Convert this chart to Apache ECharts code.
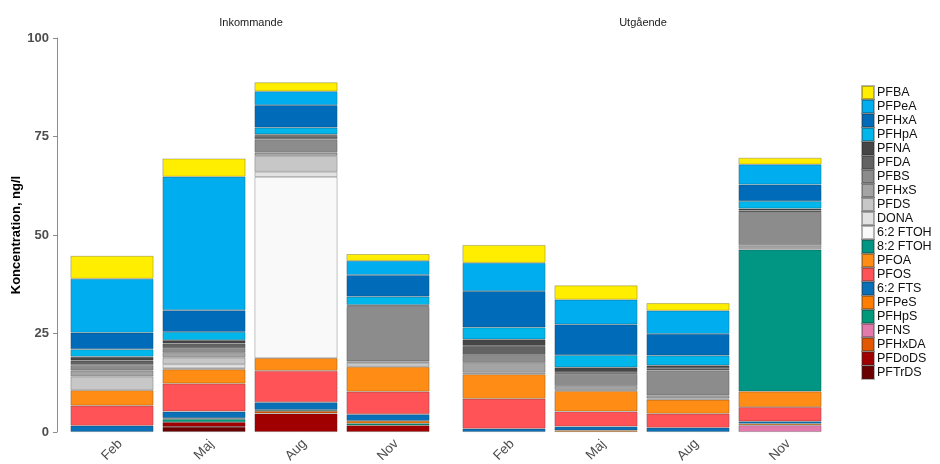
<!DOCTYPE html>
<html>
<head>
<meta charset="utf-8">
<script src="https://cdn.jsdelivr.net/npm/echarts@6/dist/echarts.min.js"></script>
<style>
  html, body { margin: 0; padding: 0; background: #fff; }
  #chart { width: 940px; height: 464px; }
</style>
</head>
<body>
<div id="chart"></div>
<script>
const months = ['Feb', 'Maj', 'Aug', 'Nov'];
const facets = ['Inkommande', 'Utgående'];

// legend order, top of the stack first
const substances = ['PFBA', 'PFPeA', 'PFHxA', 'PFHpA', 'PFNA', 'PFDA', 'PFBS', 'PFHxS', 'PFDS', 'DONA',
  '6:2 FTOH', '8:2 FTOH', 'PFOA', 'PFOS', '6:2 FTS', 'PFPeS', 'PFHpS', 'PFNS', 'PFHxDA', 'PFDoDS', 'PFTrDS'];
const colors = ['#FFEE00', '#00AEEF', '#006CB9', '#00B6EA', '#464646', '#636363', '#8C8C8C', '#A4A4A4', '#C7C7C7', '#E2E2E2',
  '#F9F9F9', '#009683', '#FF8C14', '#FF5358', '#0A70B8', '#FF7E00', '#00997A', '#E27BAC', '#E25700', '#A00000', '#6B0000'];

// ng/l per substance, same order as substances
const inFeb = [5.8, 13.7, 4.2, 1.9, 1.0, 1.1, 1.4, 1.5, 3.5, 0, 0, 0, 3.9, 5.1, 1.6, 0, 0, 0, 0, 0, 0];
const inMaj = [4.6, 33.9, 5.5, 2.1, 0.8, 1.2, 1.2, 1.2, 1.7, 1.0, 0.3, 0, 3.6, 7.1, 1.7, 0.2, 0.8, 0, 0, 1.2, 1.3];
const inAug = [2.3, 3.5, 5.7, 1.7, 0.4, 0.85, 3.4, 0.85, 4.0, 1.3, 46.0, 0, 3.2, 8.0, 1.95, 0, 0.3, 0, 0.6, 4.7, 0];
const inNov = [1.7, 3.6, 5.5, 2.1, 0.25, 0.25, 13.8, 0.4, 1.0, 0, 0, 0, 6.3, 5.75, 1.7, 0.6, 0.5, 0, 0, 1.7, 0];
const utFeb = [4.5, 7.2, 9.2, 3.05, 1.65, 2.3, 2.0, 2.5, 0.4, 0, 0, 0, 6.2, 7.6, 0.85, 0, 0, 0, 0, 0, 0];
const utMaj = [3.6, 6.3, 7.8, 3.1, 1.2, 0.5, 3.0, 1.0, 0.3, 0, 0, 0, 5.2, 3.8, 1.0, 0.4, 0, 0, 0, 0, 0];
const utAug = [1.9, 5.9, 5.5, 2.5, 0.7, 0.55, 6.35, 0.8, 0.3, 0, 0, 0, 3.55, 3.55, 1.1, 0, 0, 0, 0, 0, 0];
const utNov = [1.7, 5.1, 4.2, 1.9, 0.5, 0.6, 8.2, 0.7, 0.4, 0, 0, 36.0, 4.0, 3.6, 0.6, 0.4, 0, 1.7, 0, 0, 0];

const bars = [[inFeb, inMaj, inAug, inNov], [utFeb, utMaj, utAug, utNov]];

const chart = echarts.init(document.getElementById('chart'), null, { renderer: 'canvas' });
const font = 'Liberation Sans, Arial, sans-serif';
const grids = [
  { left: 66, top: 38, width: 368, height: 394, outerBoundsMode: 'none' },
  { left: 458, top: 38, width: 368, height: 394, outerBoundsMode: 'none' },
];

const series = [];
// bottom of stack first
for (let i = substances.length - 1; i >= 0; i--) {
  bars.forEach((group, g) => {
    series.push({
      name: substances[i],
      type: 'bar',
      stack: 'facet' + g,
      xAxisIndex: g,
      yAxisIndex: g,
      barWidth: 83,
      color: colors[i],
      itemStyle: { borderColor: 'rgba(40,40,40,0.35)', borderWidth: 0.8 },
      emphasis: { disabled: true },
      data: group.map((col) => (col[i] ? col[i] : null)),
    });
  });
}

chart.setOption({
  animation: false,
  textStyle: { fontFamily: font },
  title: facets.map((name, g) => ({
    text: name,
    left: grids[g].left + grids[g].width / 2 - 4,
    top: 12,
    textAlign: 'center',
    textStyle: { fontSize: 11, fontWeight: 'normal', color: '#1a1a1a', fontFamily: font },
  })),
  grid: grids,
  legend: {
    orient: 'vertical',
    left: 856,
    top: 80,
    itemWidth: 12,
    itemHeight: 13,
    itemGap: -1,
    icon: 'rect',
    data: substances,
    selectedMode: false,
    textStyle: { fontSize: 12.5, color: '#111', padding: [0, 0, 0, -2], fontFamily: font },
  },
  xAxis: grids.map((_, g) => ({
    type: 'category',
    gridIndex: g,
    data: months,
    axisLine: { show: false },
    axisTick: { show: false },
    axisLabel: {
      rotate: 45,
      align: 'center',
      verticalAlign: 'middle',
      margin: 18,
      color: '#4d4d4d',
      fontSize: 13.5,
      fontFamily: font,
    },
  })),
  yAxis: [
    {
      type: 'value',
      gridIndex: 0,
      min: 0,
      max: 100,
      interval: 25,
      offset: 9,
      name: 'Koncentration, ng/l',
      nameLocation: 'middle',
      nameGap: 33,
      nameTextStyle: { fontSize: 13, fontWeight: 'bold', color: '#000', fontFamily: font },
      axisLine: { show: true, lineStyle: { color: '#8c8c8c', width: 1 } },
      axisTick: { show: true, length: 4, lineStyle: { color: '#8c8c8c' } },
      axisLabel: { color: '#4d4d4d', fontSize: 13, fontWeight: 'bold', margin: 8, fontFamily: font },
      splitLine: { show: false },
    },
    {
      type: 'value',
      gridIndex: 1,
      min: 0,
      max: 100,
      interval: 25,
      show: false,
      splitLine: { show: false },
    },
  ],
  series,
});
</script>
</body>
</html>
